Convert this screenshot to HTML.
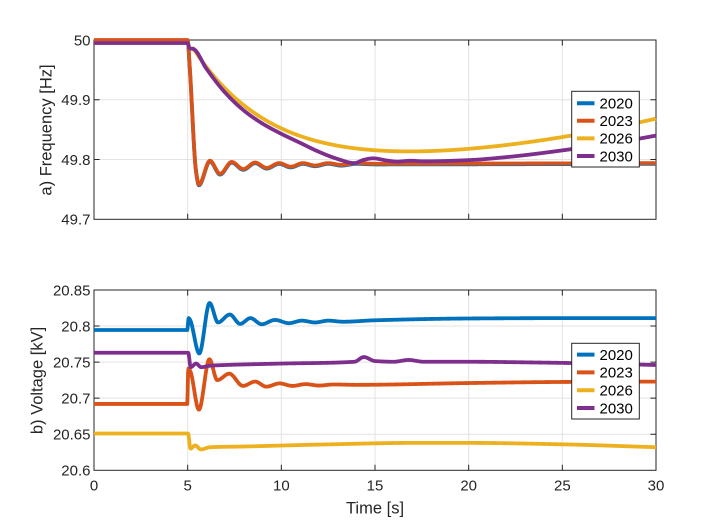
<!DOCTYPE html>
<html><head><meta charset="utf-8"><style>
html,body{margin:0;padding:0;background:#fff;}
svg{display:block;font-family:"Liberation Sans",Arial,sans-serif;}
</style></head><body>
<svg id="s" width="725" height="530" viewBox="0 0 725 530" xmlns="http://www.w3.org/2000/svg">
<rect width="725" height="530" fill="#fff"/>
<g stroke="#e3e3e3" stroke-width="1">
<line x1="187.67" y1="40" x2="187.67" y2="219.3"/>
<line x1="281.33" y1="40" x2="281.33" y2="219.3"/>
<line x1="375" y1="40" x2="375" y2="219.3"/>
<line x1="468.67" y1="40" x2="468.67" y2="219.3"/>
<line x1="562.33" y1="40" x2="562.33" y2="219.3"/>
<line x1="94" y1="99.77" x2="656" y2="99.77"/>
<line x1="94" y1="159.53" x2="656" y2="159.53"/>
<line x1="187.67" y1="290" x2="187.67" y2="470.3"/>
<line x1="281.33" y1="290" x2="281.33" y2="470.3"/>
<line x1="375" y1="290" x2="375" y2="470.3"/>
<line x1="468.67" y1="290" x2="468.67" y2="470.3"/>
<line x1="562.33" y1="290" x2="562.33" y2="470.3"/>
<line x1="94" y1="326.06" x2="656" y2="326.06"/>
<line x1="94" y1="362.12" x2="656" y2="362.12"/>
<line x1="94" y1="398.18" x2="656" y2="398.18"/>
<line x1="94" y1="434.24" x2="656" y2="434.24"/>
</g>
<g stroke="#262626" stroke-width="1" fill="none">
<rect x="94" y="40" width="562" height="179.3"/>
<rect x="94" y="290" width="562" height="180.3"/>
<path d="M187.67 219.3v-5.6M281.33 219.3v-5.6M375 219.3v-5.6M468.67 219.3v-5.6M562.33 219.3v-5.6
M187.67 40v5.6M281.33 40v5.6M375 40v5.6M468.67 40v5.6M562.33 40v5.6
M94 99.77h5.6M94 159.53h5.6M656 99.77h-5.6M656 159.53h-5.6
M187.67 470.3v-5.6M281.33 470.3v-5.6M375 470.3v-5.6M468.67 470.3v-5.6M562.33 470.3v-5.6
M187.67 290v5.6M281.33 290v5.6M375 290v5.6M468.67 290v5.6M562.33 290v5.6
M94 326.06h5.6M94 362.12h5.6M94 398.18h5.6M94 434.24h5.6
M656 326.06h-5.6M656 362.12h-5.6M656 398.18h-5.6M656 434.24h-5.6"/>
</g>
<g fill="#262626" font-size="15" text-anchor="end">
<text x="90.5" y="45.3">50</text>
<text x="90.5" y="105.1">49.9</text>
<text x="90.5" y="164.8">49.8</text>
<text x="90.5" y="224.6">49.7</text>
<text x="90.5" y="295.3">20.85</text>
<text x="90.5" y="331.4">20.8</text>
<text x="90.5" y="367.4">20.75</text>
<text x="90.5" y="403.5">20.7</text>
<text x="90.5" y="439.5">20.65</text>
<text x="90.5" y="475.6">20.6</text>
</g>
<g fill="#262626" font-size="15" text-anchor="middle">
<text x="94" y="490.7">0</text>
<text x="187.67" y="490.7">5</text>
<text x="281.33" y="490.7">10</text>
<text x="375" y="490.7">15</text>
<text x="468.67" y="490.7">20</text>
<text x="562.33" y="490.7">25</text>
<text x="656" y="490.7">30</text>
</g>
<g fill="#262626" font-size="16.5" text-anchor="middle">
<text x="375" y="513.5">Time [s]</text>
<text transform="translate(51.5,130) rotate(-90)">a) Frequency [Hz]</text>
<text transform="translate(42.5,380.5) rotate(-90)">b) Voltage [kV]</text>
</g>
<g id="lines" fill="none" stroke-width="3.8" stroke-linejoin="round" stroke-linecap="butt"></g>
<g>
<rect x="571.7" y="91.3" width="67.6" height="75.7" fill="#fff" stroke="#262626" stroke-width="1"/>
<g stroke-width="4">
<line x1="577" x2="594.5" y1="103.3" y2="103.3" stroke="#0072BD"/>
<line x1="577" x2="594.5" y1="120.8" y2="120.8" stroke="#D95319"/>
<line x1="577" x2="594.5" y1="138.4" y2="138.4" stroke="#EDB120"/>
<line x1="577" x2="594.5" y1="156" y2="156" stroke="#7E2F8E"/>
</g>
<g fill="#000" font-size="15">
<text x="599.5" y="108.6">2020</text>
<text x="599.5" y="126.1">2023</text>
<text x="599.5" y="143.7">2026</text>
<text x="599.5" y="161.3">2030</text>
</g>
<rect x="571.7" y="343.3" width="67.6" height="75.7" fill="#fff" stroke="#262626" stroke-width="1"/>
<g stroke-width="4">
<line x1="577" x2="594.5" y1="354.6" y2="354.6" stroke="#0072BD"/>
<line x1="577" x2="594.5" y1="372.4" y2="372.4" stroke="#D95319"/>
<line x1="577" x2="594.5" y1="390.2" y2="390.2" stroke="#EDB120"/>
<line x1="577" x2="594.5" y1="408" y2="408" stroke="#7E2F8E"/>
</g>
<g fill="#000" font-size="15">
<text x="599.5" y="359.9">2020</text>
<text x="599.5" y="377.7">2023</text>
<text x="599.5" y="395.5">2026</text>
<text x="599.5" y="413.3">2030</text>
</g>
</g>
</svg>
<script>
(function(){
function mono(pts){
  var n=pts.length,x=[],y=[],d=[],m=[],i;
  for(i=0;i<n;i++){x.push(pts[i][0]);y.push(pts[i][1]);}
  for(i=0;i<n-1;i++){d.push((y[i+1]-y[i])/(x[i+1]-x[i]));}
  m[0]=d[0];m[n-1]=d[n-2];
  for(i=1;i<n-1;i++){
    if(d[i-1]*d[i]<=0){m[i]=0;}
    else{var h0=x[i]-x[i-1],h1=x[i+1]-x[i];
      m[i]=3*(h0+h1)/((2*h1+h0)/d[i-1]+(h1+2*h0)/d[i]);}
  }
  return function(t){
    if(t<=x[0])return y[0];
    if(t>=x[n-1])return y[n-1];
    var k=0;while(k<n-2&&t>x[k+1])k++;
    var h=x[k+1]-x[k],s=(t-x[k])/h,s2=s*s,s3=s2*s;
    return (2*s3-3*s2+1)*y[k]+(s3-2*s2+s)*h*m[k]+(-2*s3+3*s2)*y[k+1]+(s3-s2)*h*m[k+1];
  };
}
function X(t){return 94+t*562/30;}
function YF(f){return 40+(50-f)*(179.3/0.3);}
function YV(v){return 290+(20.85-v)*(180.3/0.25);}
var g=document.getElementById('lines');
function draw(fn,ymap,color,off){
  var s='',t;
  for(var i=0;i<=1500;i++){t=i*0.02;
    s+=(i?'L':'M')+X(t).toFixed(2)+' '+(ymap(fn(t))+(off||0)).toFixed(2);}
  var p=document.createElementNS('http://www.w3.org/2000/svg','path');
  p.setAttribute('d',s);p.setAttribute('stroke',color);g.appendChild(p);
}
var oF=mono([[0,50],[5,50],[5.1,49.96],[5.45,49.78],[5.6,49.758],[6.19,49.798],[6.73,49.776],[7.35,49.796],[7.97,49.784],[8.6,49.795],[9.22,49.786],[9.88,49.794],[10.5,49.788],[11.15,49.794],[11.8,49.79],[12.5,49.794],[13.2,49.791],[14,49.794],[15,49.793],[30,49.794]]);
function yF(t){
  if(t<5)return 49.995;
  if(t<5.1)return 49.995-(t-5)*0.09;
  if(t<5.3)return 49.986-(t-5.1)*0.005;
  var r=t>8.9?0.0001707*(t-8.9)*(t-8.9):0;
  return 49.792+0.194*Math.exp(-(t-5.3)/4)+r;
}
var pF=mono([[0,49.995],[5,49.995],[5.1,49.986],[5.3,49.985],[6,49.952],[7,49.912],[8,49.882],[9,49.86],[10,49.843],[11,49.828],[12,49.813],[13,49.801],[13.9,49.794],[14.4,49.7995],[14.9,49.802],[15.6,49.7985],[16.2,49.7965],[16.9,49.798],[17.6,49.797],[20,49.799],[22,49.804],[25.4,49.817],[28,49.829],[30,49.84]]);
draw(oF,YF,'#0072BD',0.7);
draw(oF,YF,'#D95319',0);
draw(yF,YF,'#EDB120',0);
draw(pF,YF,'#7E2F8E',0);
var bV=mono([[0,20.7945],[4.98,20.7945],[5.05,20.811],[5.12,20.809],[5.62,20.762],[6.17,20.832],[6.62,20.805],[7.25,20.816],[7.8,20.803],[8.35,20.811],[8.95,20.8025],[9.66,20.8085],[10.4,20.804],[11.1,20.8075],[11.8,20.805],[12.5,20.8075],[13.3,20.806],[15,20.808],[20,20.8105],[25,20.811],[30,20.811]]);
var oV=mono([[0,20.692],[4.98,20.692],[5.03,20.741],[5.13,20.738],[5.6,20.684],[6.16,20.754],[6.58,20.725],[7.22,20.734],[7.95,20.717],[8.6,20.723],[9.2,20.716],[9.9,20.7205],[10.6,20.717],[11.3,20.7195],[12,20.7175],[12.8,20.719],[14,20.7185],[20,20.721],[25,20.7225],[30,20.723]]);
var yV=mono([[0,20.651],[5.02,20.651],[5.15,20.63],[5.4,20.6345],[5.7,20.629],[6.2,20.632],[8,20.633],[12.6,20.636],[17,20.638],[20,20.638],[25,20.636],[30,20.632]]);
var pV=mono([[0,20.763],[5.03,20.763],[5.16,20.743],[5.45,20.748],[5.72,20.743],[6.2,20.745],[7,20.746],[10,20.748],[13.9,20.7505],[14.4,20.757],[15,20.7515],[16,20.7505],[16.8,20.753],[17.6,20.7505],[20,20.7505],[23.5,20.7495],[27,20.748],[30,20.746]]);
draw(bV,YV,'#0072BD',0);
draw(oV,YV,'#D95319',0);
draw(yV,YV,'#EDB120',0);
draw(pV,YV,'#7E2F8E',0);
})();
</script>
</body></html>
